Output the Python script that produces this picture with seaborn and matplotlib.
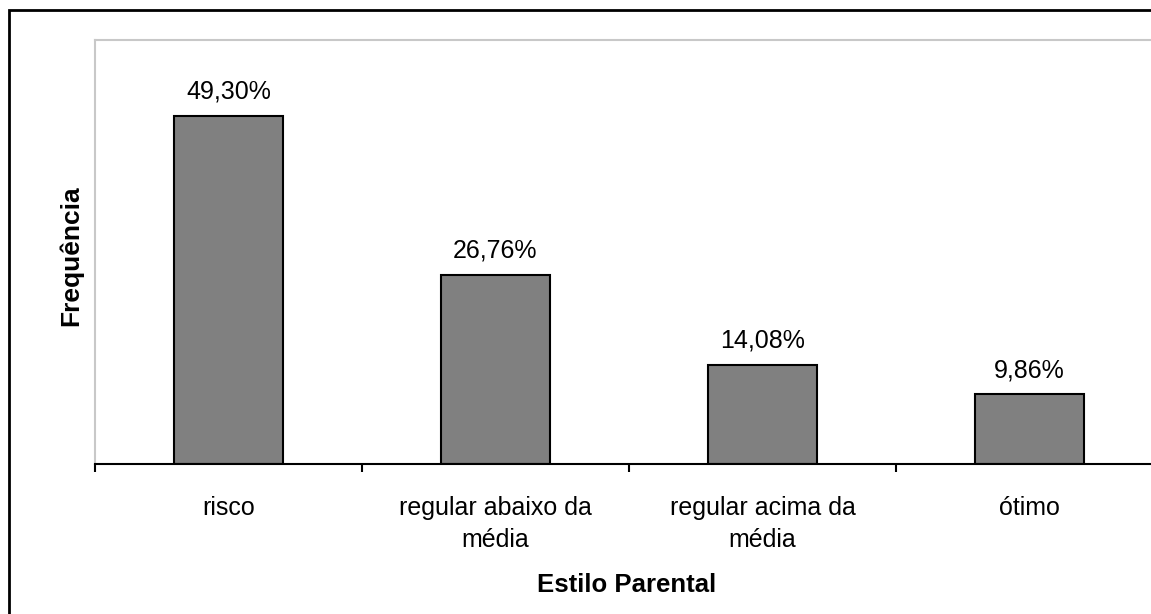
import matplotlib
matplotlib.use("Agg")
import matplotlib.pyplot as plt
from matplotlib.patches import Rectangle
import seaborn as sns
import pandas as pd

categories = ["risco", "regular abaixo da\nmédia", "regular acima da\nmédia", "ótimo"]
frequencies = [49.30, 26.76, 14.08, 9.86]
value_labels = ["49,30%", "26,76%", "14,08%", "9,86%"]

sns.set_style("white")
plt.rcParams["font.family"] = ["Liberation Sans", "DejaVu Sans"]
plt.rcParams["text.color"] = "black"
plt.rcParams["xtick.color"] = "black"
plt.rcParams["xtick.labelcolor"] = "black"

W, H = 1151, 614
fig = plt.figure(figsize=(W / 100, H / 100), dpi=100)
fig.patch.set_facecolor("white")

ax = fig.add_axes([95 / W, 1 - 464 / H, (1163 - 95) / W, (464 - 40) / H])

df = pd.DataFrame({"estilo": categories, "freq": frequencies})
sns.barplot(data=df, x="estilo", y="freq", color="#808080", saturation=1,
            width=0.41, edgecolor="black", linewidth=1.5, ax=ax)

ax.set_ylim(0, 60)
ax.set_xlim(-0.5, len(categories) - 0.5)
ax.set_yticks([])

# boundary ticks on the category axis, labels at the category centres
ax.set_xticks([i - 0.5 for i in range(len(categories) + 1)])
ax.set_xticklabels([])
ax.set_xticks(range(len(categories)), minor=True)
ax.set_xticklabels(categories, minor=True, fontsize=18, linespacing=1.42)
ax.tick_params(axis="x", which="major", length=6, width=1.5, color="black",
               direction="out", bottom=True)
ax.tick_params(axis="x", which="minor", length=0, pad=23)

for sp in ["top", "left", "right"]:
    ax.spines[sp].set_color("#c8c8c8")
    ax.spines[sp].set_linewidth(1.5)
ax.spines["bottom"].set_color("black")
ax.spines["bottom"].set_linewidth(1.5)

for i, (v, lab) in enumerate(zip(frequencies, value_labels)):
    ax.annotate(lab, (i, v), xytext=(0, 12), textcoords="offset pixels",
                ha="center", va="bottom", fontsize=18)

ax.set_xlabel("")
ax.set_ylabel("")
fig.text(627 / W, 1 - 585 / H, "Estilo Parental", ha="center", va="center",
         fontsize=18.5, fontweight="bold")
fig.text(71 / W, 1 - 256 / H, "Frequência", ha="center", va="center",
         rotation=90, fontsize=19, fontweight="bold")

# outer chart frame
fig.patches.append(Rectangle((8.5 / W, -0.1), 1.2, 1 - 9.5 / H + 0.1,
                             transform=fig.transFigure, fill=False,
                             edgecolor="black", linewidth=2.0))

fig.savefig("out.png", dpi=100)
